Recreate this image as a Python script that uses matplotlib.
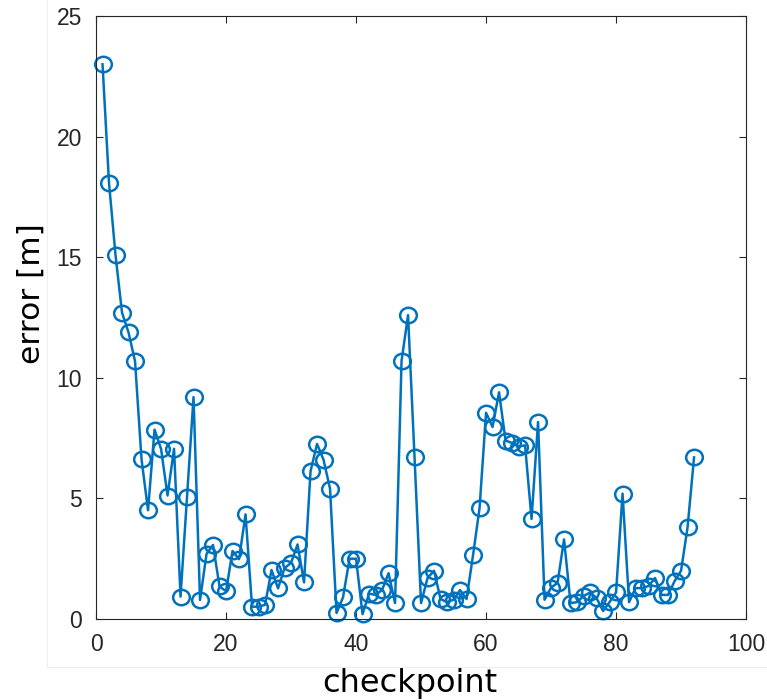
import matplotlib
matplotlib.use('Agg')
import matplotlib.pyplot as plt
from matplotlib.path import Path
from matplotlib.lines import Line2D

# error per checkpoint
checkpoint = list(range(1, 93))
error_m = [
    23.0, 18.07, 15.08, 12.7, 11.88, 10.69, 6.62, 4.51, 7.85, 7.06,
    5.12, 7.06, 0.93, 5.07, 9.2, 0.79, 2.7, 3.07, 1.35, 1.15,
    2.82, 2.48, 4.34, 0.51, 0.51, 0.59, 2.03, 1.27, 2.11, 2.33,
    3.09, 1.52, 6.13, 7.26, 6.6, 5.4, 0.25, 0.9, 2.5, 2.5,
    0.2, 1.05, 1.0, 1.2, 1.9, 0.66, 10.7, 12.6, 6.7, 0.66,
    1.7, 2.0, 0.83, 0.7, 0.8, 1.2, 0.83, 2.65, 4.6, 8.55,
    7.96, 9.4, 7.4, 7.3, 7.15, 7.2, 4.15, 8.17, 0.8, 1.3,
    1.5, 3.3, 0.66, 0.7, 0.95, 1.1, 0.87, 0.33, 0.7, 1.1,
    5.2, 0.7, 1.28, 1.28, 1.37, 1.7, 1.0, 1.0, 1.57, 2.0,
    3.8, 6.7,
]
xticks = [0, 20, 40, 60, 80, 100]
yticks = [0, 5, 10, 15, 20, 25]

# the source image is a bit stretched sideways, so the circles are too
circ = Path.unit_circle()
ellipse = Path(circ.vertices * [1.08, 1.0], circ.codes)

fig = plt.figure(figsize=(7.67, 7.0), dpi=100)

# faint border left over from the original crop
fig.add_artist(Line2D([47 / 767, 47 / 767], [1.0, 1 - 667 / 700],
                      transform=fig.transFigure, color='#eeeeee', lw=0.8))
fig.add_artist(Line2D([47 / 767, 1.0], [1 - 667 / 700, 1 - 667 / 700],
                      transform=fig.transFigure, color='#eeeeee', lw=0.8))

ax = fig.add_axes([0.1252, 0.1157, 0.8475, 0.8614])

ax.plot(checkpoint, error_m, '-', color='#0072BD', linewidth=1.8,
        marker=ellipse, markersize=12, markerfacecolor='none',
        markeredgewidth=1.8, clip_on=False)

ax.set_xlim(0, 100)
ax.set_ylim(0, 25)
ax.set_xticks(xticks)
ax.set_yticks(yticks)
ax.tick_params(direction='in', top=True, right=True, length=5,
               width=0.8, colors='#262626', labelsize=16.5, pad=10)
for lab in ax.get_xticklabels() + ax.get_yticklabels():
    lab.set_fontfamily('Liberation Sans')
for s in ax.spines.values():
    s.set_color('#262626')
    s.set_linewidth(0.8)

ax.set_xlabel('checkpoint', fontsize=23)
ax.set_ylabel('error [m]', fontsize=22.5)
ax.xaxis.set_label_coords(0.482, -0.082)
ax.yaxis.set_label_coords(-0.078, 0.54)

fig.savefig('out.png', dpi=100)
